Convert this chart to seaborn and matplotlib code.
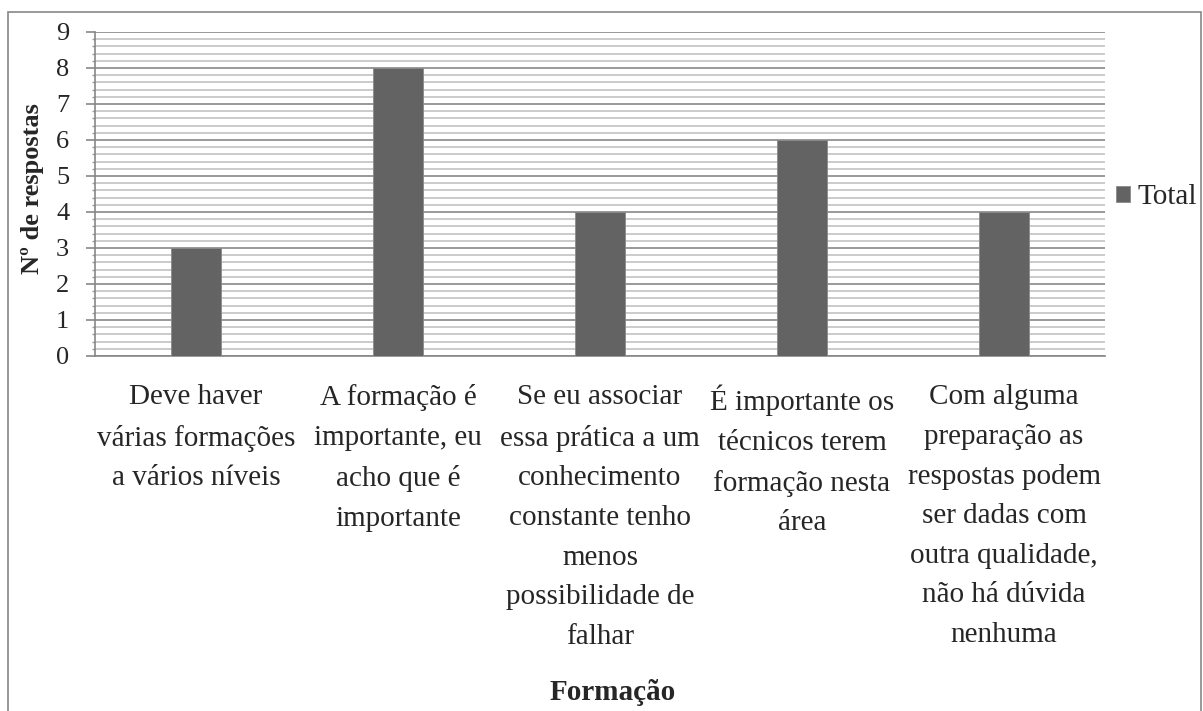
import matplotlib
matplotlib.use('Agg')
import matplotlib.pyplot as plt
from matplotlib.ticker import MultipleLocator
from matplotlib.patches import Rectangle
import pandas as pd
import seaborn as sns

# Data
categorias = [
    "Deve haver\nvárias formações\na vários níveis",
    "A formação é\nimportante, eu\nacho que é\nimportante",
    "Se eu associar\nessa prática a um\nconhecimento\nconstante tenho\nmenos\npossibilidade de\nfalhar",
    "É importante os\ntécnicos terem\nformação nesta\nárea",
    "Com alguma\npreparação as\nrespostas podem\nser dadas com\noutra qualidade,\nnão há dúvida\nnenhuma",
]
total = [3, 8, 4, 6, 4]

df = pd.DataFrame({'Formação': categorias, 'Total': total})

sns.set_style("white")
plt.rcParams['font.family'] = ['Liberation Serif', 'DejaVu Serif']

W, H = 1203, 711
fig = plt.figure(figsize=(W / 100, H / 100), dpi=100)
ax = fig.add_axes([95 / W, 1 - 356 / H, 1010 / W, 324 / H])

sns.barplot(data=df, x='Formação', y='Total', color='#636363', width=0.25,
            saturation=1, ax=ax, label='Total', zorder=3,
            edgecolor='#8a8a8a', linewidth=0.6)

ax.set_ylim(0, 9)
ax.set_xlim(-0.5, 4.5)
ax.yaxis.set_major_locator(MultipleLocator(1))
ax.yaxis.set_minor_locator(MultipleLocator(0.2))
ax.grid(axis='y', which='major', color='#878787', linewidth=1.2, zorder=0)
ax.grid(axis='y', which='minor', color='#bdbdbd', linewidth=1.1, zorder=0)
ax.set_axisbelow(True)

for s in ['top', 'right']:
    ax.spines[s].set_visible(False)
for s in ['left', 'bottom']:
    ax.spines[s].set_color('#878787')
    ax.spines[s].set_linewidth(1.2)

ax.tick_params(axis='y', which='major', left=True, length=6.5, width=1.2,
               color='#878787', labelsize=19, pad=12)
ax.tick_params(axis='y', which='minor', left=True, length=2.5, width=1.0,
               color='#9a9a9a')
ax.tick_params(axis='x', bottom=False, labelsize=21, pad=17)
for lbl in ax.get_xticklabels():
    lbl.set_linespacing(1.68)

ax.set_ylabel('')
ax.set_xlabel('')
fig.text(33 / W, 1 - 189 / H, 'Nº de respostas', fontsize=19,
         fontweight='bold', rotation=90, ha='center', va='center')
fig.text(613 / W, 1 - 693 / H, 'Formação', fontsize=21, fontweight='bold',
         ha='center', va='center')

handles, labels = ax.get_legend_handles_labels()
if ax.get_legend():
    ax.get_legend().remove()
fig.legend(handles, labels, loc='center left',
           bbox_to_anchor=(1116 / W, 1 - 197 / H),
           frameon=False, fontsize=21, handlelength=0.48, handleheight=0.48,
           handletextpad=0.27, borderpad=0, borderaxespad=0)

# outer chart border
fig.patches.append(Rectangle((7.5 / W, -0.01), 1193.5 / W, 1 - 12 / H + 0.01,
                             transform=fig.transFigure, fill=False,
                             edgecolor='#878787', linewidth=1.2))

fig.savefig('out.png', dpi=100)
